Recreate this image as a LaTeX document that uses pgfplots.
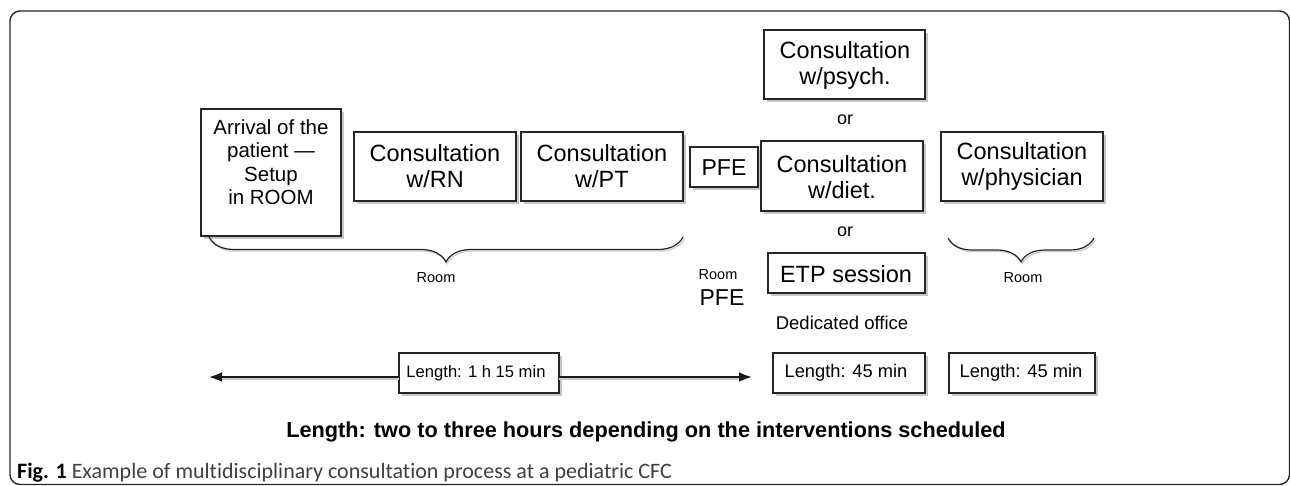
\documentclass[border=0pt]{standalone}
\usepackage{pgfplots}
\pgfplotsset{compat=1.18}
\usepackage{fontspec}
\setmainfont{Liberation Sans}
\newfontfamily\capfont[Ligatures=NoCommon]{Carlito}
\usetikzlibrary{decorations.pathreplacing,arrows.meta}
\newcommand{\fs}[2]{\fontsize{#1}{#2}\selectfont}
\newcommand{\bx}[4]{%
  \fill[black!22] (axis cs:#1+2.5,#2+2.5) rectangle (axis cs:#3+2.5,#4+2.5);
  \draw[line width=1.3pt, draw=black!85, fill=white] (axis cs:#1,#2) rectangle (axis cs:#3,#4);}
\begin{document}
\begin{tikzpicture}
\begin{axis}[
  width=1290pt, height=485pt, scale only axis,
  xmin=0, xmax=1290, ymin=0, ymax=485, y dir=reverse,
  hide axis, clip=false,
]
% outer frame
\draw[line width=1.4pt, black!85, rounded corners=10pt] (axis cs:10,11) rectangle (axis cs:1289.5,484.5);
% boxes
\bx{201}{109}{341}{236}
\bx{354}{132}{516}{201}
\bx{521}{132}{683}{201}
\bx{690}{147}{758}{187}
\bx{764}{30}{925}{99}
\bx{761}{141}{923}{211}
\bx{768}{253}{925}{293}
\bx{941}{132}{1103}{201}
\bx{399}{353}{559}{393}
\bx{773}{353}{925}{393}
\bx{949}{353}{1095}{393}
% box texts
\node[align=center, font=\fs{20.5}{23.5}] at (axis cs:271,162) {Arrival of the\\patient —\\Setup\\in ROOM};
\node[align=center, font=\fs{23.5}{26}] at (axis cs:435,166) {Consultation\\w/RN};
\node[align=center, font=\fs{23.5}{26}] at (axis cs:602,166) {Consultation\\w/PT};
\node[align=center, font=\fs{23}{26}] at (axis cs:724,168) {PFE};
\node[align=center, font=\fs{23.5}{26}] at (axis cs:845,65) {Consultation\\w/psych.};
\node[font=\fs{18}{20}] at (axis cs:845,120) {or};
\node[align=center, font=\fs{23.5}{26}] at (axis cs:842,177) {Consultation\\w/diet.};
\node[font=\fs{18}{20}] at (axis cs:845,232) {or};
\node[align=center, font=\fs{23.5}{26}] at (axis cs:1022,166) {Consultation\\w/physician};
\node[font=\fs{23.5}{26}] at (axis cs:846,274) {ETP session};
% braces
\draw[line width=1.3pt, black!20, decorate, decoration={brace, mirror, amplitude=25pt}] (axis cs:210.5,238.5) -- (axis cs:684.5,238.5);
\draw[line width=1.2pt, black!85, decorate, decoration={brace, mirror, amplitude=25pt}] (axis cs:209,237) -- (axis cs:683,237);
\draw[line width=1.3pt, black!20, decorate, decoration={brace, mirror, amplitude=24pt}] (axis cs:949.5,239.5) -- (axis cs:1095.5,239.5);
\draw[line width=1.2pt, black!85, decorate, decoration={brace, mirror, amplitude=24pt}] (axis cs:948,238) -- (axis cs:1094,238);
\node[font=\fs{14.5}{16}] at (axis cs:436,278) {Room};
\node[font=\fs{14.5}{16}] at (axis cs:718,275) {Room};
\node[font=\fs{23}{26}] at (axis cs:722,298) {PFE};
\node[font=\fs{14.5}{16}] at (axis cs:1023,278) {Room};
\node[font=\fs{18.5}{20}] at (axis cs:842,323) {Dedicated office};
% arrows
\draw[line width=2.4pt, black!20] (axis cs:399,379) -- (axis cs:215,379);
\draw[line width=2.4pt, black!20] (axis cs:559,379) -- (axis cs:745,379);
\draw[line width=2pt, black!90, -{Latex[length=13pt,width=10pt]}] (axis cs:399,377) -- (axis cs:209,377);
\draw[line width=2pt, black!90, -{Latex[length=13pt,width=10pt]}] (axis cs:559,377) -- (axis cs:752,377);
\node[font=\fs{16.6}{19}] at (axis cs:476,373) {Length: 1 h 15 min};
\node[font=\fs{18.3}{20}] at (axis cs:846,373) {Length: 45 min};
\node[font=\fs{18.3}{20}] at (axis cs:1021,373) {Length: 45 min};
% bottom text
\node[font=\fs{21.7}{24}\bfseries] at (axis cs:646,432) {Length: two to three hours depending on the interventions scheduled};
\node[anchor=west, inner sep=0pt, font=\capfont\fs{22}{24}, text=black!75] at (axis cs:17,473) {\textcolor{black}{\textbf{Fig. 1}} Example of multidisciplinary consultation process at a pediatric CFC};
\end{axis}
\pgfresetboundingbox
\useasboundingbox (current axis.south west) rectangle (current axis.north east);
\end{tikzpicture}
\end{document}
